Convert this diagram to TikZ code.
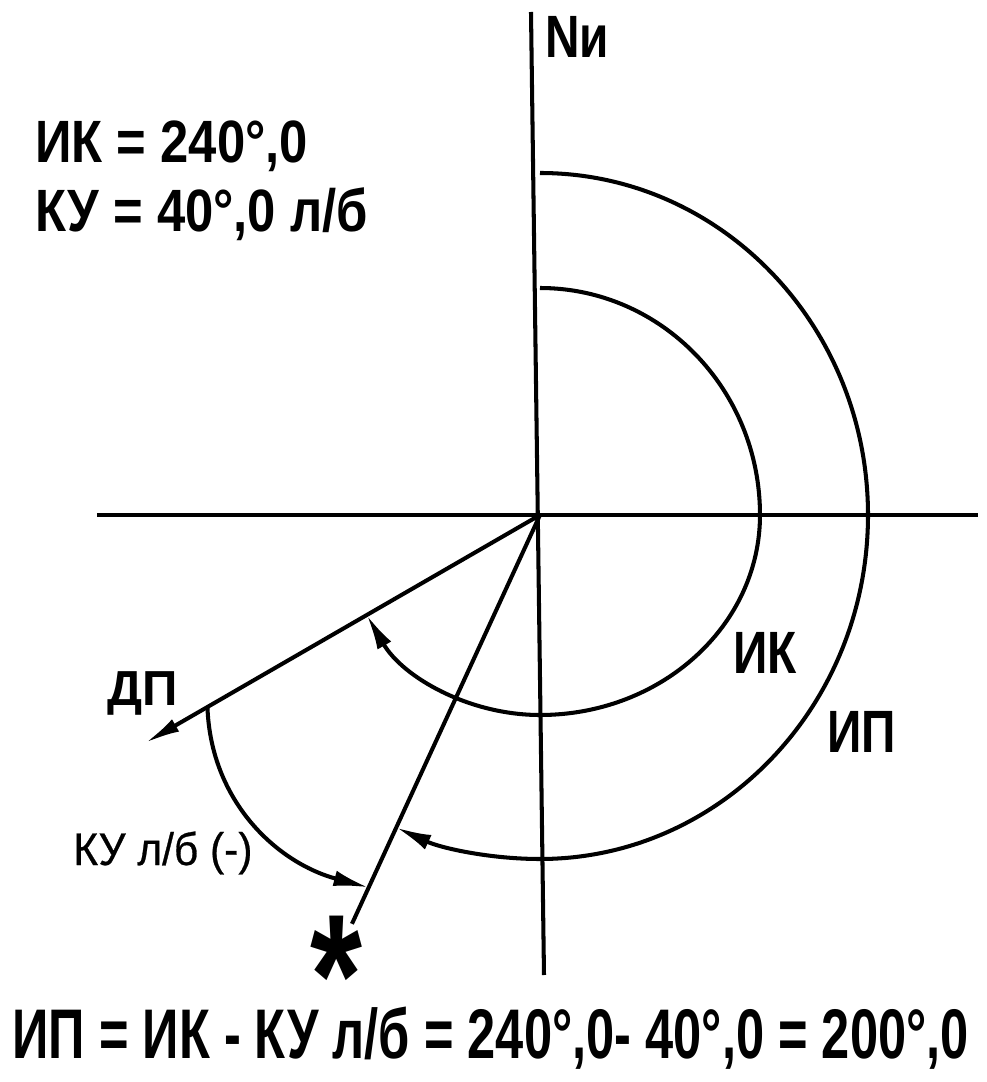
\documentclass[tikz,border=0pt]{standalone}
\usepackage{fontspec}
\setmainfont{Liberation Sans}
\newfontfamily\narrowfont{Liberation Sans}[FakeStretch=0.8]
\newfontfamily\topfont{Liberation Sans}[FakeStretch=0.85]
\newfontfamily\midfont{Liberation Sans}[FakeStretch=0.93, FakeBold=0.6]
\newfontfamily\eqfont{Liberation Sans}[FakeStretch=0.72]
\usetikzlibrary{arrows.meta}
\tikzset{
  axis/.style={line width=2.3pt},
  arcline/.style={line width=2.3pt, -{Latex[length=20pt,width=9pt]}},
  lbl/.style={anchor=base west, inner sep=0pt, font=\narrowfont\bfseries\fontsize{34}{40}\selectfont},
}

\begin{document}
\begin{tikzpicture}[x=0.02cm, y=0.02cm]
  \useasboundingbox (-540,-567) rectangle (447,515);
  \coordinate (O) at (0,0);
  \coordinate (Ntop) at (-9,503);
  \coordinate (Sbot) at (4,-460);
  \coordinate (Wend) at (-443,0);
  \coordinate (Eend) at (438,0);
  \coordinate (dp) at (210:456);
  \coordinate (brg) at (245.3:450);
  \coordinate (ik) at (0,227);
  \coordinate (ip) at (0,342);
  \coordinate (ky0) at (210:384);
  \coordinate (ky1) at (245.3:410);

  \draw[axis] (Ntop) -- (Sbot);
  \draw[axis] (Wend) -- (Eend);
  \draw[axis, -{Latex[length=20pt,width=8pt]}] (O) -- (dp);
  \draw[axis] (O) -- (brg);

  \draw[arcline] (ik) arc[start angle=90, end angle=0, x radius=220, y radius=227]
    arc[start angle=0, end angle=-90, x radius=220, y radius=200]
    arc[start angle=-90, end angle=-150, radius=200];
  \draw[arcline] (ip) arc[start angle=90, end angle=0, x radius=328, y radius=342]
    arc[start angle=0, end angle=-90, x radius=328, y radius=344]
    arc[start angle=-90, end angle=-114.7, radius=344];
  \draw[arcline] (ky0) to[out=-88, in=165] (ky1);

  \node[lbl, font=\topfont\bfseries\fontsize{34}{40}\selectfont] (ikval) at (-505,352) {ИК = 240°,0};
  \node[lbl, font=\topfont\bfseries\fontsize{34}{40}\selectfont] (kyval) at (-505,283) {КУ = 40°,0 л/б};
  \node[lbl] (nlbl) at (5,457) {Nи};
  \node[lbl] (iklbl) at (193,-158) {ИК};
  \node[lbl] (iplbl) at (287,-237) {ИП};
  \node[lbl, font=\bfseries\fontsize{28}{32}\selectfont] (dplbl) at (-433,-190) {ДП};
  \node[lbl, font=\midfont\fontsize{26}{30}\selectfont] (kylbl) at (-467,-350) {КУ л/б (-)};
  \node[inner sep=0pt, font=\bfseries\fontsize{76}{76}\selectfont] (star) at (-204,-440) {\raisebox{-0.6em}[0.2em][0.2em]{\scalebox{1}[1.3]{*}}};
  \node[lbl, font=\eqfont\bfseries\fontsize{40}{48}\selectfont] (eq) at (-528,-543) {ИП = ИК - КУ л/б = 240°,0- 40°,0 = 200°,0};
\end{tikzpicture}
\end{document}
